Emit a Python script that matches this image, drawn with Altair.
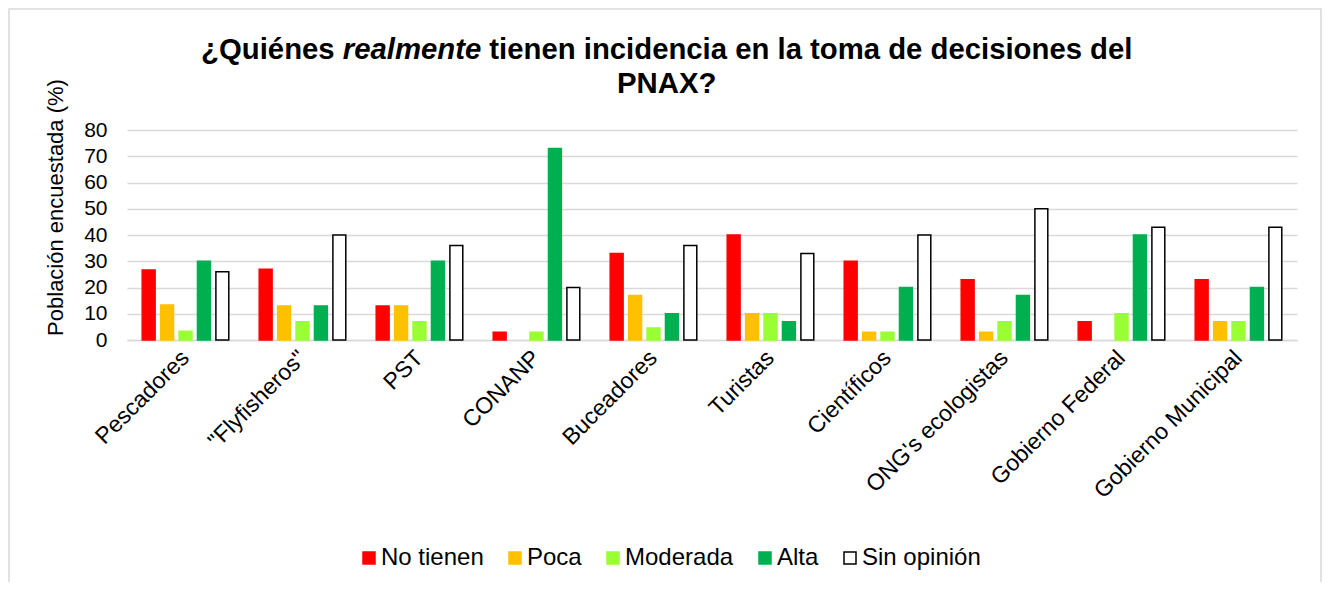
import altair as alt
import pandas as pd

# ---------------- data ----------------
groups = ["Pescadores", "\"Flyfisheros\"", "PST", "CONANP", "Buceadores",
          "Turistas", "Científicos", "ONG's ecologistas", "Gobierno Federal",
          "Gobierno Municipal"]
levels = ["No tienen", "Poca", "Moderada", "Alta", "Sin opinión"]

no_tienen = [26.7, 27, 13, 3, 33, 40, 30, 23, 7, 23]
poca = [13.3, 13, 13, 0, 17, 10, 3, 3, 0, 7]
moderada = [3.3, 7, 7, 3, 4.6, 10, 3, 7, 10, 7]
alta = [30, 13, 30, 73, 10, 7, 20, 17, 40, 20]
sin_opinion = [26, 40, 36, 20, 36, 33, 40, 50, 43, 43]

y_ticks = [0, 10, 20, 30, 40, 50, 60, 70, 80]

fill_colors = ["#FF0000", "#FFC000", "#99FF33", "#00B050", "#FFFFFF"]
stroke_colors = ["#FF0000", "#FFC000", "#99FF33", "#00B050", "#000000"]

title_a = "¿Quiénes"
title_b = "realmente"
title_c = "tienen incidencia en la toma de decisiones del"
title_d = "PNAX?"
y_title = "Población encuestada (%)"

rows = []
for lvl, vals in zip(levels, [no_tienen, poca, moderada, alta, sin_opinion]):
    for g, v in zip(groups, vals):
        rows.append({"Grupo": g, "Nivel": lvl, "Valor": v})
df = pd.DataFrame(rows)

FONT = "Liberation Sans"
TFS = 29.3  # title font size

legend = alt.Legend(
    title=None, orient="none", direction="horizontal",
    legendX=230, legendY=416, padding=0,
    symbolType="square", symbolSize=144, symbolStrokeWidth=1.5,
    labelFontSize=24, labelFont=FONT, labelColor="black",
    labelOffset=0, columnPadding=19,
)

bars = alt.Chart(df).transform_filter("datum.Valor > 0").mark_bar(strokeWidth=1.5).encode(
    x=alt.X("Grupo:N", sort=groups, title=None,
            scale=alt.Scale(paddingInner=0.26, paddingOuter=0.13),
            axis=alt.Axis(labelAngle=-45, labelAlign="right", labelBaseline="middle",
                          labelFontSize=23, labelFont=FONT, labelColor="black",
                          labelPadding=14, ticks=False, domain=True,
                          domainColor="#d9d9d9", domainWidth=1.5, grid=False,
                          labelLimit=400)),
    xOffset=alt.XOffset("Nivel:N", sort=levels,
                        scale=alt.Scale(domain=levels, paddingInner=0.3, paddingOuter=0)),
    y=alt.Y("Valor:Q", scale=alt.Scale(domain=[0, 80]),
            axis=alt.Axis(values=y_ticks, title=y_title, labelFontSize=21,
                          labelFont=FONT, labelColor="black", labelPadding=20,
                          ticks=False, domain=False, grid=True,
                          gridColor="#d9d9d9", gridWidth=1.5,
                          titleFont=FONT, titleFontSize=22, titleFontWeight="normal",
                          titleColor="black", titleAngle=270, titleX=-65, titleY=77,
                          titleAlign="center", titleBaseline="alphabetic")),
    fill=alt.Fill("Nivel:N", scale=alt.Scale(domain=levels, range=fill_colors), legend=legend),
    stroke=alt.Stroke("Nivel:N", scale=alt.Scale(domain=levels, range=stroke_colors), legend=legend),
)

# title, built from text pieces so that one word can be italic
cx = 539.7
line1_w = 31.78 * TFS
xa = cx - line1_w / 2
xb = xa + (4.557 + 0.278) * TFS
xc = xb + (4.724 + 0.278) * TFS


def part(text, x, y, italic=False, align="left"):
    return alt.Chart(pd.DataFrame({"t": [text]})).mark_text(
        font=FONT, fontSize=TFS, fontWeight="bold",
        fontStyle="italic" if italic else "normal",
        align=align, baseline="alphabetic", color="black",
    ).encode(text="t:N", x=alt.value(x), y=alt.value(y))


t1 = part(title_a, xa, -71)
t2 = part(title_b, xb, -71, italic=True)
t3 = part(title_c, xc, -71)
t4 = part(title_d, cx, -37, align="center")

border = alt.Chart(pd.DataFrame({"a": [0]})).mark_rect(
    fillOpacity=0, stroke="#d9d9d9", strokeWidth=1.5
).encode(x=alt.value(-118), x2=alt.value(1194), y=alt.value(-121), y2=alt.value(470))

chart = alt.layer(border, bars, t1, t2, t3, t4).properties(
    width=1170, height=210,
    autosize=alt.AutoSizeParams(type="none"),
    padding={"left": 119, "top": 122, "right": 25, "bottom": 242},
).configure_view(strokeWidth=0)

chart.save("out.html", embed_options={"renderer": "svg", "actions": False})
